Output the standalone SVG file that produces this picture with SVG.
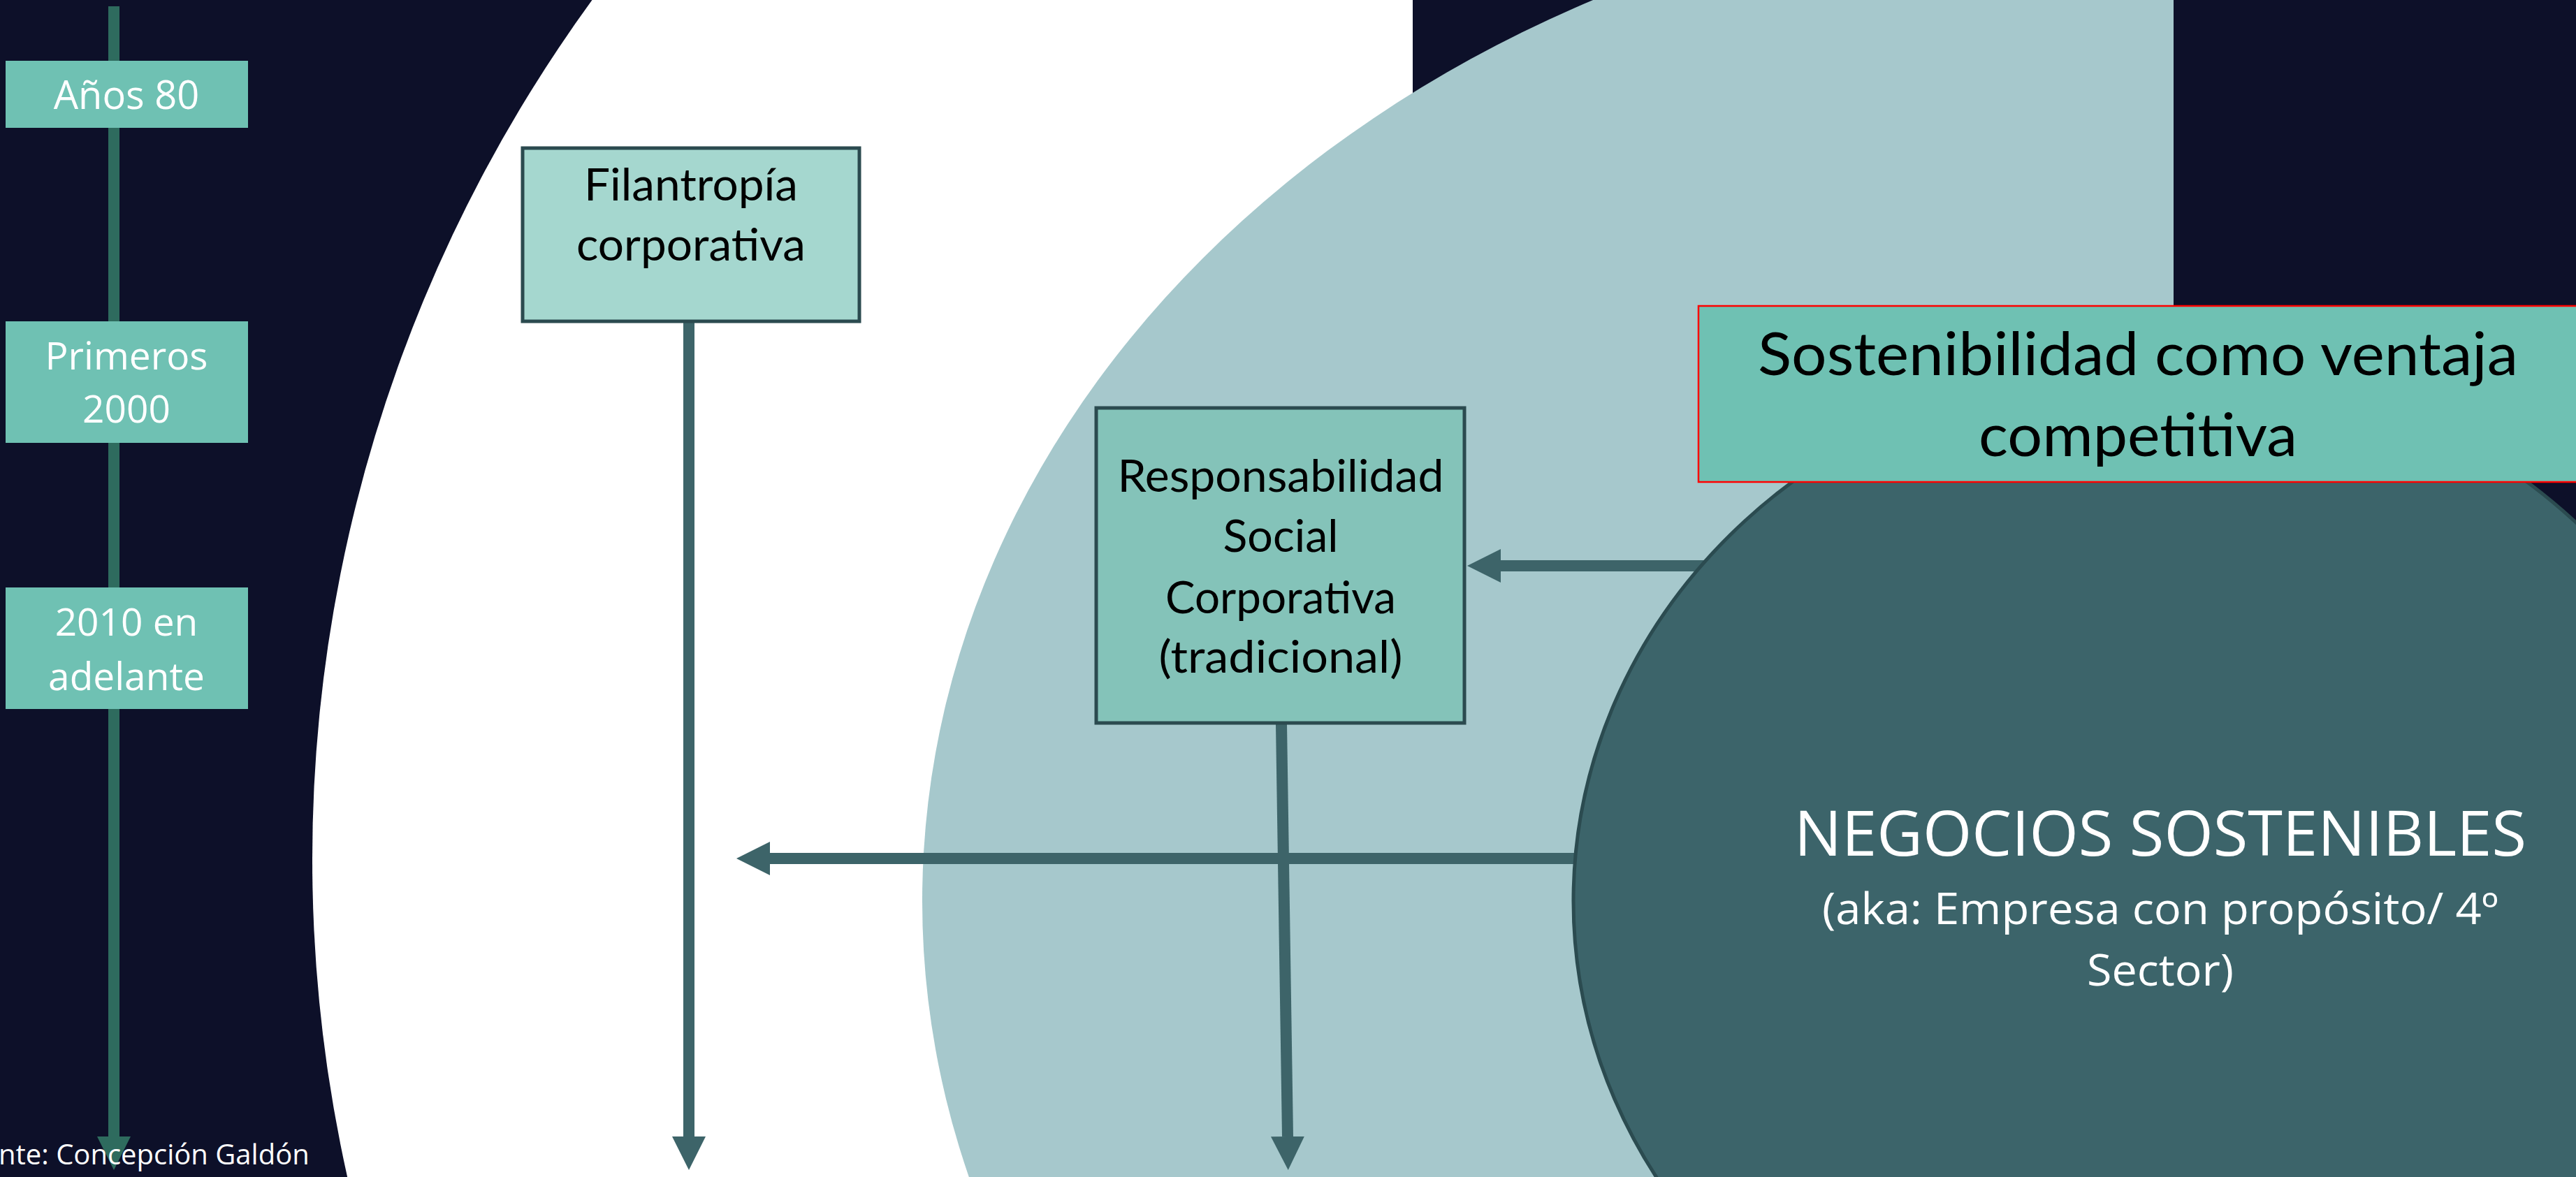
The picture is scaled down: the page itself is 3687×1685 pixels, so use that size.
<svg xmlns="http://www.w3.org/2000/svg" width="3687" height="1685" viewBox="0 0 3687 1685">
<defs>
<style>
.wt{font-family:"Open Sans","Noto Sans","DejaVu Sans",sans-serif;fill:#ffffff;text-anchor:middle}
.bt{font-family:Lato,"Liberation Sans",sans-serif;fill:#000000;text-anchor:middle}
.year{fill:#6fc1b3}
.conn{stroke:#3d6469;stroke-width:16;fill:none}
</style>
<clipPath id="clipW"><rect x="0" y="0" width="2022" height="1685"/></clipPath>
<clipPath id="clipB"><rect x="0" y="0" width="3111" height="1685"/></clipPath>
<marker id="ah" markerUnits="userSpaceOnUse" markerWidth="48" markerHeight="48" viewBox="0 0 48 48" refX="0" refY="24" orient="auto"><path d="M0,0 L48,24 L0,48 z" fill="#3d6469"/></marker>
<marker id="ahT" markerUnits="userSpaceOnUse" markerWidth="48" markerHeight="48" viewBox="0 0 48 48" refX="0" refY="24" orient="auto"><path d="M0,0 L48,24 L0,48 z" fill="#2e6b5e"/></marker>
</defs>
<rect x="0" y="0" width="3687" height="1685" fill="#0d1029"/>
<circle cx="2536" cy="1230" r="2089" fill="#ffffff" clip-path="url(#clipW)"/>
<ellipse cx="3087" cy="1290" rx="1767" ry="1450" fill="#a6c8cc" clip-path="url(#clipB)"/>

<g id="timeline">
<line x1="163" y1="9" x2="163" y2="1627" stroke="#2e6b5e" stroke-width="16" marker-end="url(#ahT)"/>
</g>
<g id="anos80">
<rect class="year" x="8" y="87" width="347" height="96"/>
<text class="wt" x="181" y="156" font-size="56">Años 80</text>
</g>
<g id="primeros2000">
<rect class="year" x="8" y="460" width="347" height="174"/>
<text class="wt" x="181" y="529" font-size="55">Primeros</text>
<text class="wt" x="181" y="605" font-size="55">2000</text>
</g>
<g id="y2010">
<rect class="year" x="8" y="841" width="347" height="174"/>
<text class="wt" x="181" y="910" font-size="55">2010 en</text>
<text class="wt" x="181" y="988" font-size="55">adelante</text>
</g>
<g id="fuente">
<text x="-2" y="1667" font-size="40" font-family="'Open Sans','Noto Sans',sans-serif" fill="#ffffff">nte: Concepción Galdón</text>
</g>

<g id="connectors">
<line class="conn" x1="986" y1="462" x2="986" y2="1627" marker-end="url(#ah)"/>
<line class="conn" x1="1834" y1="1037" x2="1843" y2="1627" marker-end="url(#ah)"/>
<line class="conn" x1="2260" y1="1229" x2="1102" y2="1229" marker-end="url(#ah)"/>
<line class="conn" x1="2445" y1="810" x2="2148" y2="810" marker-end="url(#ah)"/>
</g>

<g id="filantropia">
<rect x="748" y="212" width="482" height="248" fill="#a5d7cf" stroke="#2b4a4f" stroke-width="5"/>
<text class="bt" x="989" y="287" font-size="64" textLength="306" lengthAdjust="spacingAndGlyphs">Filantropía</text>
<text class="bt" x="989" y="373" font-size="64" textLength="328" lengthAdjust="spacingAndGlyphs">corporativa</text>
</g>

<g id="rsc">
<rect x="1569" y="584" width="527" height="451" fill="#84c3b9" stroke="#2b4a4f" stroke-width="5"/>
<text class="bt" x="1833" y="704" font-size="64" textLength="467" lengthAdjust="spacingAndGlyphs">Responsabilidad</text>
<text class="bt" x="1833" y="790" font-size="64" textLength="165" lengthAdjust="spacingAndGlyphs">Social</text>
<text class="bt" x="1833" y="878" font-size="64" textLength="330" lengthAdjust="spacingAndGlyphs">Corporativa</text>
<text class="bt" x="1833" y="963" font-size="64" textLength="349" lengthAdjust="spacingAndGlyphs">(tradicional)</text>
</g>

<rect x="3111" y="0" width="576" height="1685" fill="#0d1029"/>

<g id="negocios">
<ellipse cx="3091" cy="1290" rx="839" ry="770" fill="#3c646a" stroke="#2b4b50" stroke-width="5"/>
<text class="wt" x="3092" y="1225" font-size="90" textLength="1048" lengthAdjust="spacingAndGlyphs">NEGOCIOS SOSTENIBLES</text>
<text class="wt" x="3092" y="1323" font-size="62" textLength="968" lengthAdjust="spacingAndGlyphs">(aka: Empresa con propósito/ 4º</text>
<text class="wt" x="3092" y="1411" font-size="62" textLength="210" lengthAdjust="spacingAndGlyphs">Sector)</text>
</g>

<g id="ventaja">
<rect x="2431" y="438" width="1270" height="252" fill="#6fc1b3" stroke="#ff0000" stroke-width="2.5"/>
<text class="bt" x="3060" y="537" font-size="86" textLength="1088" lengthAdjust="spacingAndGlyphs">Sostenibilidad como ventaja</text>
<text class="bt" x="3060" y="653" font-size="86" textLength="456" lengthAdjust="spacingAndGlyphs">competitiva</text>
</g>
</svg>
